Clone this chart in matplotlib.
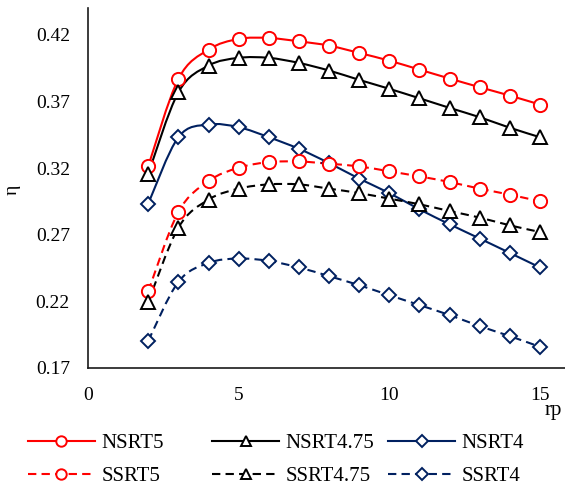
import matplotlib
matplotlib.use("Agg")
import matplotlib.pyplot as plt
import numpy as np
from matplotlib.path import Path
from matplotlib.patches import PathPatch
from matplotlib.lines import Line2D

plt.rcParams["font.family"] = ["Liberation Serif", "DejaVu Serif"]

rp = [2, 3, 4, 5, 6, 7, 8, 9, 10, 11, 12, 13, 14, 15]
nsrt5 = [0.3214, 0.3868, 0.4088, 0.4168, 0.4175, 0.4150, 0.4118, 0.4063,
         0.4005, 0.3938, 0.3871, 0.3806, 0.3743, 0.3676]
nsrt475 = [0.3157, 0.3768, 0.3968, 0.4026, 0.4026, 0.3988, 0.3931, 0.3861,
           0.3794, 0.3723, 0.3651, 0.3581, 0.3502, 0.3431]
nsrt4 = [0.2933, 0.3431, 0.3526, 0.3506, 0.3431, 0.3344, 0.3237, 0.3120,
         0.3012, 0.2890, 0.2778, 0.2671, 0.2563, 0.2454]
ssrt5 = [0.2276, 0.2870, 0.3102, 0.3202, 0.3244, 0.3249, 0.3232, 0.3212,
         0.3175, 0.3137, 0.3095, 0.3045, 0.3000, 0.2950]
ssrt475 = [0.2196, 0.2753, 0.2963, 0.3045, 0.3077, 0.3077, 0.3045, 0.3012,
           0.2970, 0.2928, 0.2877, 0.2828, 0.2770, 0.2720]
ssrt4 = [0.1904, 0.2346, 0.2488, 0.2521, 0.2503, 0.2454, 0.2389, 0.2321,
         0.2246, 0.2172, 0.2097, 0.2014, 0.1939, 0.1859]

navy = "#002060"
dash = (0, (4, 2.5))
series = [
    ("NSRT5", nsrt5, "red", "o", "-"),
    ("NSRT4.75", nsrt475, "black", "^", "-"),
    ("NSRT4", nsrt4, navy, "D", "-"),
    ("SSRT5", ssrt5, "red", "o", dash),
    ("SSRT4.75", ssrt475, "black", "^", dash),
    ("SSRT4", ssrt4, navy, "D", dash),
]


def smooth_path(x, y):
    # Excel-style smoothed line: Catmull-Rom segments as cubic Bezier curves
    p = np.column_stack([x, y])
    verts = [p[0]]
    codes = [Path.MOVETO]
    n = len(p)
    for i in range(n - 1):
        p0 = p[i - 1] if i > 0 else p[i]
        p3 = p[i + 2] if i + 2 < n else p[i + 1]
        c1 = p[i] + (p[i + 1] - p0) / 6
        c2 = p[i + 1] - (p3 - p[i]) / 6
        verts += [c1, c2, p[i + 1]]
        codes += [Path.CURVE4] * 3
    return Path(verts, codes)


fig = plt.figure(figsize=(5.65, 4.88), dpi=100)
ax = fig.add_axes([88 / 565, 120 / 488, 477 / 565, 360 / 488])

for name, vals, col, mk, ls in series:
    ax.add_patch(PathPatch(smooth_path(rp, vals), fill=False, edgecolor=col,
                           linewidth=1.5, linestyle=ls, zorder=2))
    ms = 7.5 if mk == "D" else 9.5
    ax.plot(rp, vals, linestyle="none", marker=mk, markersize=ms,
            markerfacecolor="white", markeredgecolor=col, markeredgewidth=1.4,
            zorder=3)

ax.set_xlim(0, 477 / 30.13)
ax.set_ylim(0.17, 0.44)
ax.set_xticks([0, 5, 10, 15])
ax.set_yticks([0.17, 0.22, 0.27, 0.32, 0.37, 0.42])
ax.set_yticklabels(["0.17", "0.22", "0.27", "0.32", "0.37", "0.42"])
ax.tick_params(axis="both", length=0, labelsize=14)
ax.tick_params(axis="y", pad=13)
ax.tick_params(axis="x", pad=14)
for s in ["top", "right"]:
    ax.spines[s].set_visible(False)
for s in ["left", "bottom"]:
    ax.spines[s].set_linewidth(1.2)
    ax.spines[s].set_color("#1a1a1a")

fig.text(12 / 565, 1 - 190 / 488, "η", rotation=90, fontsize=14,
         ha="center", va="center")
fig.text(553 / 565, 1 - 410 / 488, "rp", fontsize=15, ha="center", va="center")

# legend: three columns of two entries each
col_x = [24, 208, 384]
for c in range(3):
    handles = []
    for name, vals, col, mk, ls in (series[c], series[c + 3]):
        handles.append(Line2D([], [], color=col, linestyle=ls, linewidth=1.5,
                              marker=mk, markersize=6 if mk == "D" else 7.5,
                              markerfacecolor="white", markeredgecolor=col,
                              markeredgewidth=1.4, label=name))
    fig.legend(handles=handles, loc="center left",
               bbox_to_anchor=(col_x[c] / 565, 1 - 460 / 488),
               frameon=False, fontsize=15, handlelength=3.2,
               handletextpad=0.33, labelspacing=0.65, borderpad=0.2,
               borderaxespad=0)

fig.savefig("out.png", dpi=100)
